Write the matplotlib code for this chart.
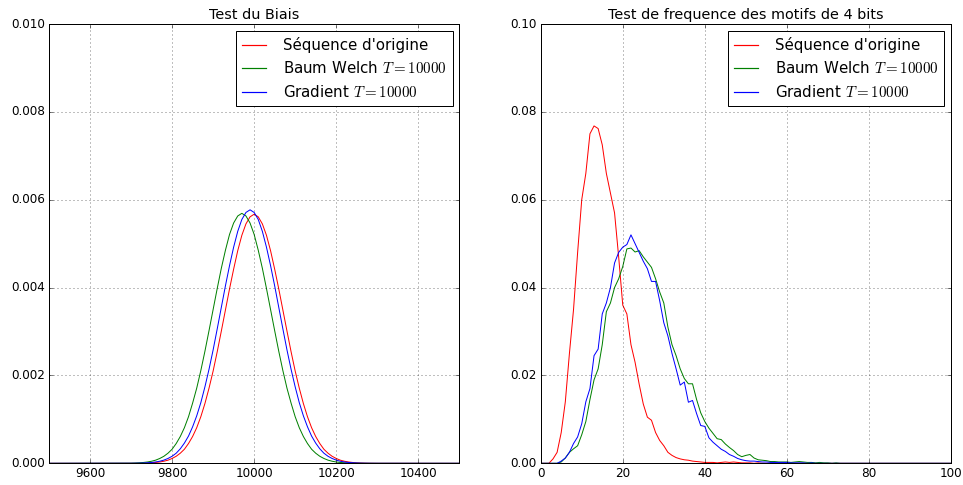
import numpy as np
import matplotlib
matplotlib.use("Agg")
import matplotlib.pyplot as plt
from matplotlib.lines import Line2D
from matplotlib.ticker import FormatStrFormatter, ScalarFormatter

plt.style.use("classic")

# ---------------- Left panel data (Test du Biais), densities in units of 1e-3
bias_x = np.arange(9700, 10301, 10)
bias_orig = [0.0007, 0.0014, 0.002, 0.004, 0.007, 0.012, 0.019, 0.030, 0.047, 0.071,
             0.11, 0.16, 0.23, 0.32, 0.45, 0.61, 0.81, 1.06, 1.36, 1.71,
             2.10, 2.54, 3.01, 3.49, 3.97, 4.42, 4.84, 5.19, 5.45, 5.61,
             5.67,
             5.61, 5.45, 5.19, 4.84, 4.42, 3.97, 3.49, 3.01, 2.54, 2.10,
             1.71, 1.36, 1.06, 0.81, 0.61, 0.45, 0.32, 0.23, 0.16, 0.11,
             0.071, 0.047, 0.030, 0.019, 0.012, 0.007, 0.004, 0.002, 0.0014, 0.0007]
bias_bw = [0.004, 0.007, 0.012, 0.019, 0.030, 0.047, 0.072, 0.11, 0.16, 0.23,
           0.32, 0.45, 0.61, 0.81, 1.06, 1.37, 1.71, 2.11, 2.55, 3.02,
           3.50, 3.98, 4.44, 4.85, 5.21, 5.47, 5.63,
           5.69,
           5.63, 5.47, 5.21, 4.85, 4.44, 3.98, 3.50, 3.02, 2.55, 2.11,
           1.71, 1.37, 1.06, 0.81, 0.61, 0.45, 0.32, 0.23, 0.16, 0.11,
           0.072, 0.047, 0.030, 0.019, 0.012, 0.007, 0.004, 0.0024, 0.0014, 0.0008,
           0.0004, 0.0002, 0.0001]
bias_grad = [0.0014, 0.0024, 0.004, 0.007, 0.012, 0.019, 0.030, 0.047, 0.073, 0.11,
             0.16, 0.23, 0.33, 0.46, 0.62, 0.83, 1.08, 1.38, 1.74, 2.14,
             2.58, 3.06, 3.55, 4.04, 4.50, 4.92, 5.28, 5.55, 5.71,
             5.77,
             5.71, 5.55, 5.28, 4.92, 4.50, 4.04, 3.55, 3.06, 2.58, 2.14,
             1.74, 1.38, 1.08, 0.83, 0.62, 0.46, 0.33, 0.23, 0.16, 0.11,
             0.073, 0.047, 0.030, 0.019, 0.012, 0.007, 0.004, 0.0024, 0.0014, 0.0008,
             0.0004]
bias_xlim = (9500, 10500)

# ---------------- Right panel data (frequence des motifs de 4 bits), x = 0..100
freq_x = np.arange(0, 101)
freq_orig = [0, 0, 0, 0.001, 0.0025, 0.007, 0.014, 0.025, 0.035, 0.048,
             0.060, 0.066, 0.075, 0.0768, 0.0762, 0.0725, 0.066, 0.0615, 0.057, 0.047,
             0.036, 0.034, 0.027, 0.023, 0.018, 0.0135, 0.0105, 0.0098, 0.007, 0.0052,
             0.004, 0.0025, 0.0018, 0.0013, 0.001, 0.0008, 0.0007, 0.0005, 0.0004, 0.0003,
             0.0002, 0.0002, 0.0002, 0.0001, 0.0002, 0.0003, 0.0002, 0.0003, 0.0002, 0.0001,
             0.0001, 0.0001, 0, 0.0001, 0, 0, 0, 0, 0, 0,
             0, 0, 0, 0, 0, 0, 0, 0, 0, 0,
             0, 0, 0, 0, 0, 0, 0, 0, 0, 0,
             0, 0, 0, 0, 0, 0, 0, 0, 0, 0,
             0, 0, 0, 0, 0, 0, 0, 0, 0, 0,
             0]
freq_bw = [0, 0, 0, 0, 0, 0.0003, 0.0012, 0.0025, 0.0033, 0.004,
           0.0065, 0.0095, 0.0145, 0.019, 0.0215, 0.027, 0.0345, 0.0365, 0.040, 0.042,
           0.0448, 0.0488, 0.049, 0.0481, 0.0484, 0.047, 0.0458, 0.0446, 0.042, 0.039,
           0.0365, 0.031, 0.027, 0.0245, 0.0215, 0.0193, 0.0181, 0.0181, 0.0145, 0.0115,
           0.0095, 0.008, 0.0068, 0.0056, 0.0054, 0.0044, 0.0036, 0.0029, 0.002, 0.0015,
           0.0018, 0.002, 0.0012, 0.0008, 0.0007, 0.0006, 0.0004, 0.0004, 0.0003, 0.0003,
           0.0003, 0.0002, 0.0003, 0.0004, 0.0003, 0.0002, 0.0002, 0.0001, 0.0002, 0.0001,
           0.0001, 0, 0.0001, 0, 0, 0, 0, 0, 0, 0,
           0, 0, 0, 0, 0, 0, 0, 0, 0, 0,
           0, 0, 0, 0, 0, 0, 0, 0, 0, 0,
           0]
freq_grad = [0, 0, 0, 0, 0, 0.0005, 0.0012, 0.0025, 0.0045, 0.006,
             0.009, 0.014, 0.017, 0.0245, 0.026, 0.034, 0.0365, 0.040, 0.0456, 0.048,
             0.0492, 0.0498, 0.052, 0.050, 0.048, 0.046, 0.0443, 0.0414, 0.0414, 0.037,
             0.032, 0.029, 0.025, 0.0215, 0.0178, 0.0185, 0.0139, 0.0143, 0.0113, 0.0086,
             0.0084, 0.0058, 0.0048, 0.004, 0.0032, 0.0027, 0.002, 0.0016, 0.0011, 0.0008,
             0.0006, 0.0005, 0.0005, 0.0004, 0.0003, 0.0003, 0.0002, 0.0002, 0.0002, 0.0002,
             0.0002, 0.0001, 0.0001, 0.0001, 0.0001, 0, 0.0001, 0, 0, 0,
             0, 0, 0, 0, 0, 0, 0, 0, 0, 0,
             0, 0, 0, 0, 0, 0, 0, 0, 0, 0,
             0, 0, 0, 0, 0, 0, 0, 0, 0, 0,
             0]

labels = ["Séquence d'origine", r"Baum Welch $T=10000$", r"Gradient $T=10000$"]
colors = ["#ff0000", "#008000", "#0000ff"]

fig = plt.figure(figsize=(963 / 72, 485 / 72), dpi=72, facecolor="white")
ax1 = fig.add_axes([49 / 963, 1 - 463.3 / 485, (459.3 - 49) / 963, (463.3 - 24) / 485])
ax2 = fig.add_axes([540.7 / 963, 1 - 463.3 / 485, (951 - 540.7) / 963, (463.3 - 24) / 485])

# left panel
bx = np.concatenate([[bias_xlim[0]], bias_x, [bias_xlim[1]]])
for ys, c, lab in zip([bias_orig, bias_bw, bias_grad], colors, labels):
    yy = np.concatenate([[0.0], np.array(ys) * 1e-3, [0.0]])
    ax1.plot(bx, yy, color=c, lw=1.0, label=lab)
ax1.set_xlim(*bias_xlim)
ax1.set_ylim(0, 0.010)
ax1.set_xticks([9600, 9800, 10000, 10200, 10400])
ax1.xaxis.set_major_formatter(ScalarFormatter(useOffset=False))
ax1.set_yticks([0.0, 0.002, 0.004, 0.006, 0.008, 0.010])
ax1.yaxis.set_major_formatter(FormatStrFormatter("%.3f"))
ax1.set_title("Test du Biais", fontsize=14.4)
ax1.grid(True)

# right panel
for ys, c, lab in zip([freq_orig, freq_bw, freq_grad], colors, labels):
    ax2.plot(freq_x, ys, color=c, lw=1.0, label=lab)
ax2.set_xlim(0, 100)
ax2.set_ylim(0, 0.10)
ax2.set_xticks([0, 20, 40, 60, 80, 100])
ax2.set_yticks([0.0, 0.02, 0.04, 0.06, 0.08, 0.10])
ax2.yaxis.set_major_formatter(FormatStrFormatter("%.2f"))
ax2.set_title("Test de frequence des motifs de 4 bits", fontsize=14.4)
ax2.grid(True)

for ax in (ax1, ax2):
    handles = [Line2D([0], [0], color=c, lw=1.2) for c in colors]
    ax.legend(handles, labels, loc="upper right", fontsize=15, numpoints=1,
              handlelength=1.6, handletextpad=1.1, borderaxespad=0.45)
    ax.tick_params(labelsize=12)

fig.savefig("out.png", dpi=72, facecolor="white")
